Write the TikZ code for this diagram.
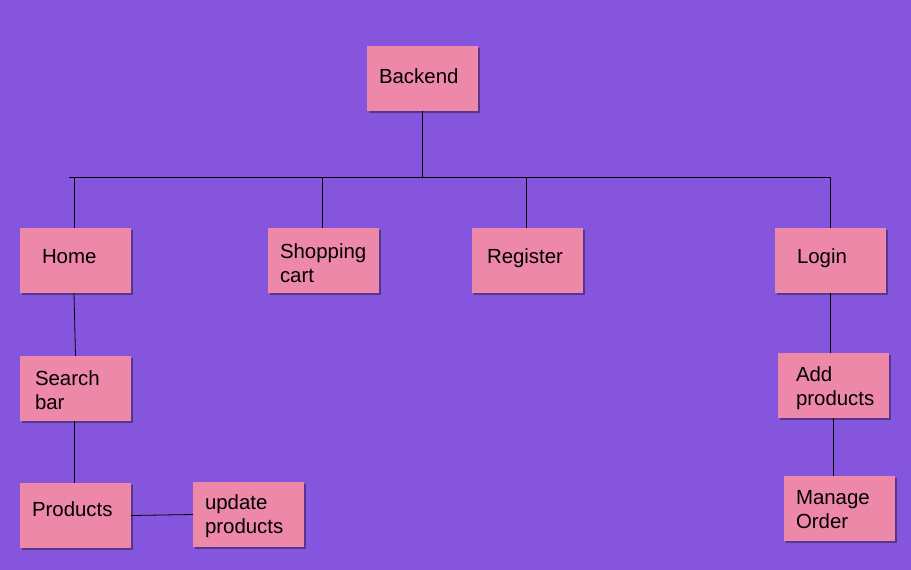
\documentclass[tikz,border=0pt]{standalone}
\usepackage{fontspec}
\setmainfont{Liberation Sans}
\usepackage{tikz}
\usetikzlibrary{shadows}
\definecolor{board}{HTML}{8555DD}
\definecolor{sticky}{HTML}{EE88A8}
\newcommand{\lift}[2]{\raisebox{#1}[\height][\depth]{#2}}

\begin{document}
\begin{tikzpicture}[
  note/.style={draw=none,fill=sticky,rectangle,minimum width=111bp,minimum height=65bp,
    text width=87bp,inner xsep=12bp,align=left,font=\fontsize{20.5}{24}\selectfont,
    drop shadow={shadow xshift=1.5bp,shadow yshift=-2bp,opacity=0.35,fill=black}},
  link/.style={line width=0.8bp,black}]

\fill[board] (0bp,0bp) rectangle (911bp,-570bp);
\useasboundingbox (0bp,0bp) rectangle (911bp,-570bp);

\node (Back) at (422.5bp,-78bp)[note] {\lift{1.5bp}{Backend}};
\node (Home) at (75.5bp,-260.5bp)[note] {\hspace*{10bp}\lift{3.5bp}{Home}};
\node (Cart) at (323.5bp,-260.5bp)[note] {\lift{-3bp}{Shopping}\\\lift{-3bp}{cart}};
\node (Reg) at (527.5bp,-260.5bp)[note] {\hspace*{3bp}\lift{2bp}{Register}};
\node (Login) at (830.5bp,-260.5bp)[note] {\hspace*{10bp}\lift{2bp}{Login}};
\node (Search) at (75.5bp,-388.5bp)[note] {\hspace*{3bp}\lift{-2bp}{Search}\\\hspace*{3bp}\lift{-2bp}{bar}};
\node (Prod) at (75.5bp,-515.5bp)[note] {\lift{6bp}{Products}};
\node (Upd) at (248.5bp,-514.5bp)[note] {\lift{-2bp}{update}\\\lift{-2bp}{products}};
\node (Add) at (833.5bp,-385.5bp)[note] {\hspace*{6bp}\lift{-3bp}{Add}\\\hspace*{6bp}\lift{-3bp}{products}};
\node (Manage) at (839.5bp,-508.5bp)[note] {\lift{-1.5bp}{Manage}\\\lift{-1.5bp}{Order}};

\coordinate (busL) at (69bp,-177bp);
\coordinate (busR) at (831bp,-177bp);
\draw [link] (busL) -- (busR);
\draw [link] (Back.south) -- (Back.south |- busL);
\draw [link] ([xshift=-1.5bp]Home.north) -- ([xshift=-1.5bp]Home.north |- busL);
\draw [link] ([xshift=-1.5bp]Cart.north) -- ([xshift=-1.5bp]Cart.north |- busL);
\draw [link] ([xshift=-1.5bp]Reg.north) -- ([xshift=-1.5bp]Reg.north |- busL);
\draw [link] (Login.north) -- (Login.north |- busL);
\draw [link] ([xshift=-1.5bp]Home.south) -- (Search.north);
\draw [link] ([xshift=-1.5bp]Search.south) -- ([xshift=-1.5bp]Search.south |- Prod.north);
\draw [link] (Prod.east) -- (Upd.west);
\draw [link] (Login.south) -- (Login.south |- Add.north);
\draw [link] (Add.south) -- (Add.south |- Manage.north);
\end{tikzpicture}
\end{document}
